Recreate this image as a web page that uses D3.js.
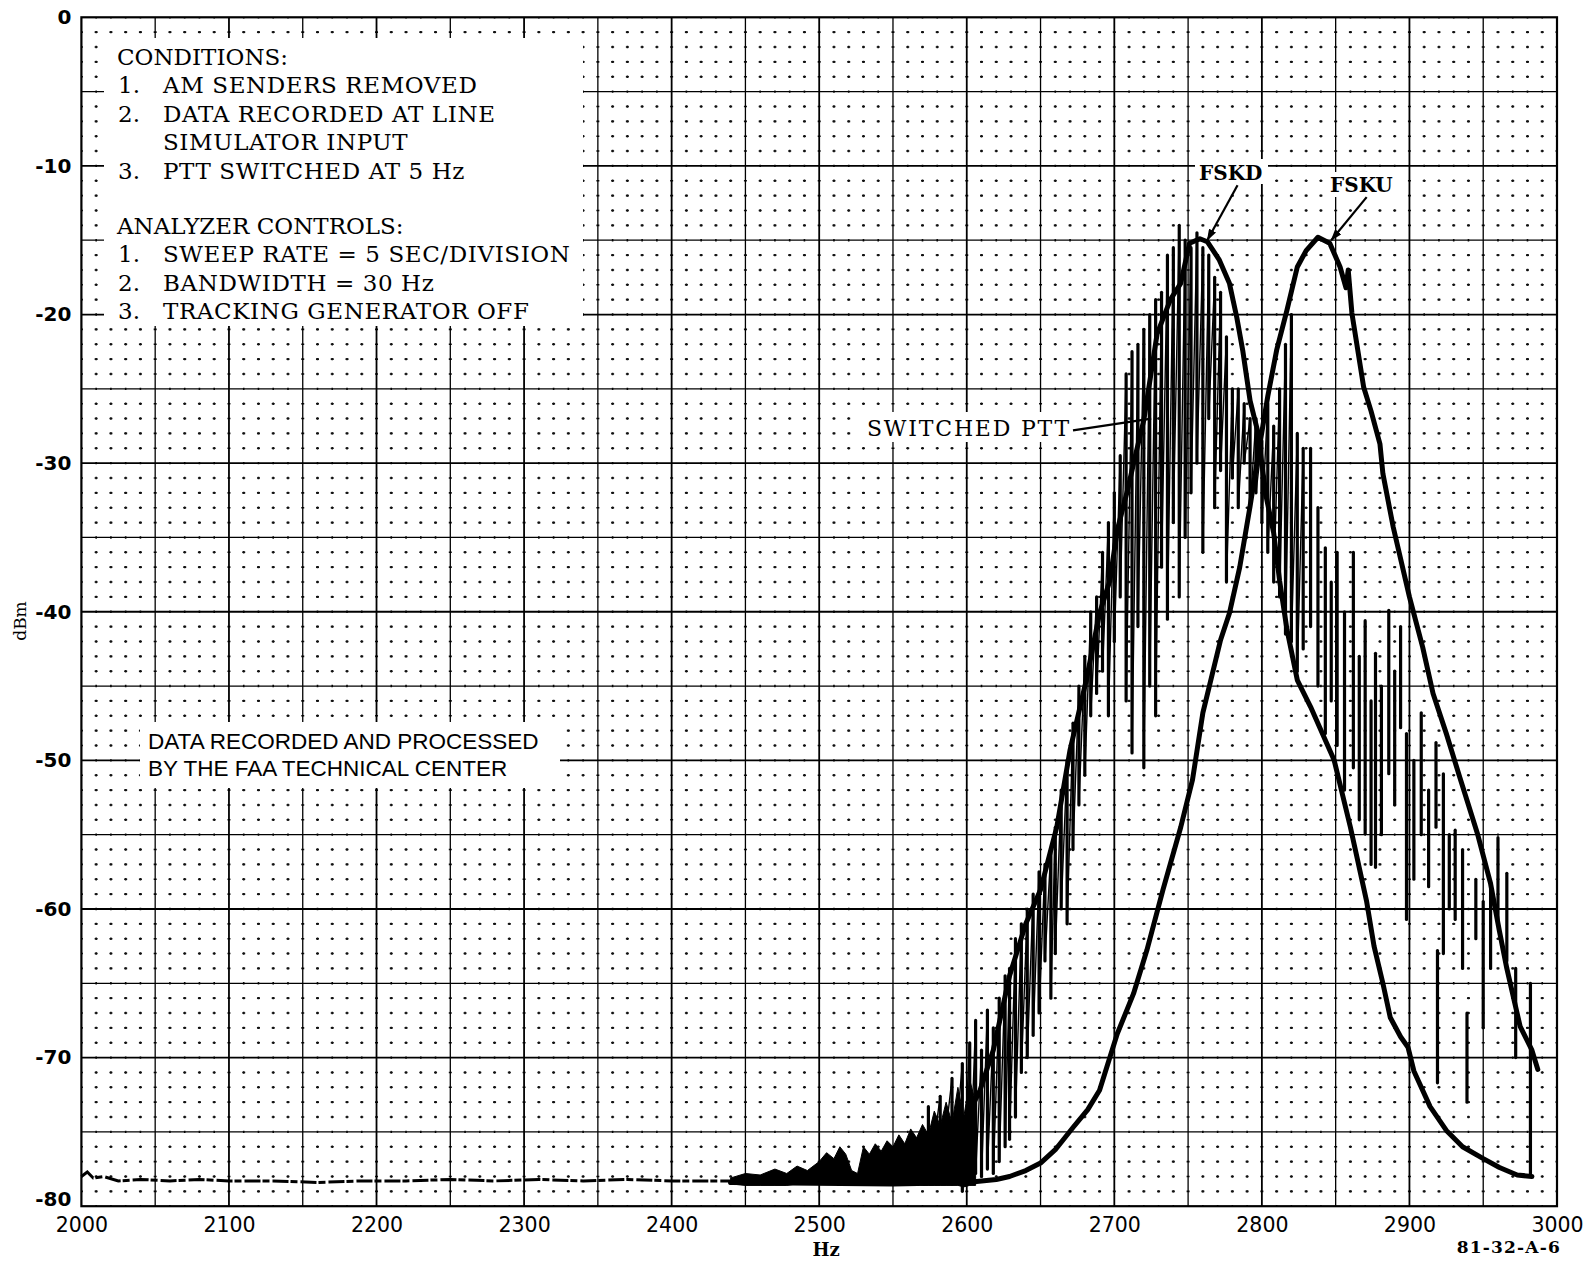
<!DOCTYPE html>
<html lang="en">
<head>
<meta charset="UTF-8">
<title>FSK spectrum</title>
<style>
  body { margin: 0; background: #fff; }
  svg { display: block; }
  .serif { font-family: "DejaVu Serif", serif; fill: #000; }
  .sans { font-family: "Liberation Sans", Arial, sans-serif; fill: #000; }
  .tick text { font-family: "DejaVu Sans", sans-serif; fill: #000; }
</style>
</head>
<body>
<script src="https://d3js.org/d3.v7.min.js"></script>
<script>
var width = 1596, height = 1266;
var margin = {top: 17.3, right: 39, bottom: 59.8, left: 81.4};

// axis ticks
var xTicks = [2000, 2100, 2200, 2300, 2400, 2500, 2600, 2700, 2800, 2900, 3000];
var yTicks = [0, -10, -20, -30, -40, -50, -60, -70, -80];
var yTickLabels = ["0", "-10", "-20", "-30", "-40", "-50", "-60", "-70", "-80"];

// noise floor (left part of the sweep)
var floorHz  = [2000, 2004, 2008, 2015, 2025, 2040, 2060, 2080, 2100, 2130, 2160, 2190, 2220, 2250, 2280, 2310, 2340, 2370, 2400, 2420, 2440, 2460];
var floorDbm = [-78.0, -77.7, -78.1, -78.0, -78.3, -78.2, -78.3, -78.2, -78.3, -78.3, -78.4, -78.3, -78.3, -78.2, -78.3, -78.2, -78.3, -78.2, -78.3, -78.3, -78.3, -78.3];

// noise band of the switched trace just before the carriers
var bandHz     = [2440, 2450, 2460, 2470, 2478, 2485, 2492, 2500, 2505, 2510, 2514, 2518, 2522, 2526, 2530, 2534, 2538, 2542, 2546, 2550, 2554, 2558, 2562, 2566, 2570, 2574, 2578, 2582, 2586, 2590, 2594, 2598, 2602, 2606];
var bandTop    = [-78.1, -77.8, -77.9, -77.5, -77.8, -77.3, -77.6, -77.0, -76.4, -76.8, -76.0, -76.5, -77.6, -77.8, -76.0, -76.5, -75.8, -76.3, -75.6, -76.0, -75.2, -75.8, -74.8, -75.4, -74.5, -75.2, -73.6, -74.6, -73.0, -74.4, -72.0, -74.0, -71.5, -73.0];
var bandBottom = [-78.5, -78.6, -78.6, -78.6, -78.6, -78.5, -78.5, -78.5, -78.4, -78.4, -78.4, -78.4, -78.4, -78.5, -78.5, -78.4, -78.4, -78.4, -78.4, -78.4, -78.5, -78.5, -78.5, -78.5, -78.6, -78.6, -78.6, -78.6, -78.6, -78.6, -78.6, -78.7, -78.6, -78.6];

// FSKD carrier trace
var fskdHz  = [2440, 2500, 2540, 2560, 2575, 2587, 2600, 2609, 2618, 2629, 2640, 2650, 2661, 2670, 2681, 2690, 2697, 2702, 2709, 2714, 2720, 2729, 2738, 2745, 2751, 2758, 2763, 2771, 2778, 2783, 2787, 2792, 2797, 2803, 2808, 2812, 2817, 2824, 2833, 2849, 2860, 2871, 2876, 2882, 2887, 2894, 2899, 2903, 2914, 2925, 2936, 2950, 2961, 2973, 2983];
var fskdDbm = [-78.4, -78.4, -78.2, -77.8, -77.0, -75.4, -74.0, -72.2, -69.5, -64.5, -61.0, -58.7, -54.5, -49.3, -44.6, -40.1, -37.9, -34.5, -31.8, -29.6, -27.1, -21.3, -19.0, -17.9, -15.2, -14.9, -15.1, -16.3, -17.9, -20.2, -22.4, -25.8, -27.8, -32.3, -34.7, -37.9, -41.2, -44.6, -46.4, -50.0, -54.5, -59.5, -62.5, -65.0, -67.3, -68.6, -69.3, -70.9, -73.3, -74.9, -76.0, -76.8, -77.4, -77.9, -78.0];

// FSKU carrier trace
var fskuHz  = [2440, 2550, 2600, 2620, 2629, 2640, 2650, 2660, 2672, 2682, 2690, 2702, 2713, 2722, 2733, 2745, 2753, 2760, 2772, 2778, 2785, 2792, 2799, 2804, 2810, 2817, 2824, 2830, 2838, 2846, 2853, 2857, 2858.5, 2861, 2869, 2874, 2880, 2882, 2889, 2900, 2909, 2916, 2925, 2934, 2946, 2955, 2961, 2966, 2975, 2983, 2987];
var fskuDbm = [-78.4, -78.5, -78.4, -78.2, -78.0, -77.6, -77.1, -76.2, -74.7, -73.5, -72.2, -68.4, -65.7, -62.8, -58.7, -54.5, -51.3, -46.8, -41.9, -40.1, -37.0, -32.9, -28.5, -25.5, -22.4, -19.7, -16.8, -15.7, -14.8, -15.2, -16.8, -18.2, -17.0, -19.9, -24.9, -26.5, -28.7, -30.7, -34.3, -39.0, -42.4, -45.5, -48.2, -51.1, -54.9, -58.3, -61.5, -64.0, -67.9, -69.5, -70.8];

// switched PTT sweep: each vertical excursion (frequency, upper, lower)
var pttHz   = [2574, 2582, 2590, 2597, 2602, 2606, 2610, 2614, 2618, 2622, 2626, 2629, 2633, 2637, 2641, 2645, 2649, 2653, 2657, 2660, 2664, 2668, 2672, 2676, 2680, 2684, 2688, 2692, 2696, 2700, 2704, 2708, 2712, 2716, 2720, 2724, 2728, 2732, 2736, 2740, 2744, 2748, 2752, 2756, 2760, 2764, 2768, 2772, 2776, 2780, 2784, 2788, 2792, 2796, 2800, 2804, 2808, 2812, 2816, 2820, 2824, 2828, 2833, 2838, 2843, 2847, 2851, 2856, 2862, 2866, 2870, 2874, 2877, 2881, 2886, 2890, 2894, 2898, 2903, 2908, 2913, 2918, 2919, 2923, 2927, 2931, 2936, 2939, 2945, 2950, 2955, 2960, 2966, 2972, 2982];
var pttHigh = [-73.3, -72.6, -71.4, -70.4, -69.0, -67.5, -69.5, -66.8, -68.0, -66.0, -64.5, -64.0, -62.0, -61.0, -60.0, -59.0, -57.5, -57.0, -56.0, -54.5, -52.0, -50.0, -47.5, -45.0, -43.0, -40.0, -39.0, -36.0, -34.0, -32.0, -29.5, -24.0, -22.5, -22.0, -21.0, -20.0, -19.0, -18.5, -16.0, -15.5, -14.0, -15.0, -15.5, -14.5, -15.5, -16.0, -17.5, -18.5, -21.5, -25.0, -25.0, -26.0, -27.0, -27.0, -28.5, -26.0, -27.5, -25.0, -22.0, -20.0, -28.0, -29.0, -29.0, -33.0, -35.7, -38.0, -36.0, -40.0, -36.0, -43.0, -40.6, -46.0, -42.8, -45.0, -39.9, -44.0, -41.0, -48.2, -50.0, -46.8, -52.0, -48.8, -62.8, -50.9, -55.0, -54.7, -56.0, -67.0, -58.0, -59.5, -58.5, -55.2, -57.6, -64.0, -65.0];
var pttLow  = [-78.4, -78.4, -78.5, -79.0, -78.5, -77.8, -78.0, -77.5, -77.8, -77.0, -76.0, -75.5, -74.0, -71.0, -70.0, -68.5, -67.0, -63.5, -66.0, -63.0, -60.0, -61.0, -56.0, -53.0, -51.0, -47.0, -45.5, -44.0, -47.0, -42.0, -39.0, -46.0, -49.5, -41.0, -50.5, -45.0, -47.0, -37.0, -40.5, -34.0, -39.0, -35.0, -32.0, -30.0, -36.0, -27.0, -33.0, -30.5, -38.0, -31.0, -33.0, -30.0, -33.0, -32.0, -34.0, -36.0, -38.0, -39.0, -41.5, -42.0, -44.0, -42.5, -41.0, -45.0, -48.2, -46.0, -49.0, -52.0, -50.5, -54.0, -54.9, -57.0, -57.2, -55.0, -50.9, -53.0, -47.8, -60.7, -58.0, -55.0, -58.5, -54.5, -71.7, -63.0, -60.0, -60.7, -64.0, -73.0, -62.0, -68.0, -64.0, -60.8, -63.5, -70.0, -78.0];

// annotation text
var conditionLines = [["", "CONDITIONS:"], ["1.", "AM SENDERS REMOVED"], ["2.", "DATA RECORDED AT LINE"], ["", "SIMULATOR INPUT"], ["3.", "PTT SWITCHED AT 5 Hz"]];
var analyzerLines  = [["", "ANALYZER CONTROLS:"], ["1.", "SWEEP RATE = 5 SEC/DIVISION"], ["2.", "BANDWIDTH = 30 Hz"], ["3.", "TRACKING GENERATOR OFF"]];
var creditLines    = ["DATA RECORDED AND PROCESSED", "BY THE FAA TECHNICAL CENTER"];

var svg = d3.select("body").append("svg")
	.attr("width", width)
	.attr("height", height);

var x = d3.scaleLinear().domain([2000, 3000]).range([margin.left, width - margin.right]);
var y = d3.scaleLinear().domain([0, -80]).range([margin.top, height - margin.bottom]);

var x0 = x.range()[0], x1 = x.range()[1], y0 = y.range()[0], y1 = y.range()[1];
var stepX = x(2010) - x(2000), stepY = y(-1) - y(0);

// ---- graph paper grid: dots on every 10 Hz x 1 dB crossing, lines every 50 Hz / 5 dB
var grid = svg.append("g").attr("class", "grid");

grid.selectAll("line.vdot")
	.data(d3.range(2010, 3000, 10).filter(function(d){ return d % 50 !== 0; }))
	.join("line")
	.attr("x1", function(d){ return x(d); }).attr("x2", function(d){ return x(d); })
	.attr("y1", y0).attr("y2", y1)
	.attr("stroke", "#111").attr("stroke-width", 1.6)
	.attr("stroke-dasharray", "2.4," + (stepY - 2.4))
	.attr("stroke-dashoffset", 1.2);

grid.selectAll("line.hdot")
	.data(d3.range(-1, -80, -1).filter(function(d){ return d % 5 !== 0; }))
	.join("line")
	.attr("x1", x0).attr("x2", x1)
	.attr("y1", function(d){ return y(d); }).attr("y2", function(d){ return y(d); })
	.attr("stroke", "#111").attr("stroke-width", 1.6)
	.attr("stroke-dasharray", "3," + (stepX - 3))
	.attr("stroke-dashoffset", 1.5);

grid.selectAll("line.vmid")
	.data(d3.range(2050, 3000, 50))
	.join("line")
	.attr("x1", function(d){ return x(d); }).attr("x2", function(d){ return x(d); })
	.attr("y1", y0).attr("y2", y1)
	.attr("stroke", "#000")
	.attr("stroke-width", function(d){ return d % 100 === 0 ? 1.8 : 1.3; });

grid.selectAll("line.hmid")
	.data(d3.range(-5, -80, -5))
	.join("line")
	.attr("x1", x0).attr("x2", x1)
	.attr("y1", function(d){ return y(d); }).attr("y2", function(d){ return y(d); })
	.attr("stroke", "#000")
	.attr("stroke-width", function(d){ return d % 10 === 0 ? 1.8 : 1.3; });

// white panels behind the notes
svg.append("rect").attr("x", 104).attr("y", 38).attr("width", 479).attr("height", 288).attr("fill", "#fff");
svg.append("rect").attr("x", 140).attr("y", 722).attr("width", 420).attr("height", 66).attr("fill", "#fff");
svg.append("rect").attr("x", 860).attr("y", 412).attr("width", 212).attr("height", 30).attr("fill", "#fff");
svg.append("rect").attr("x", 1195).attr("y", 159).attr("width", 73).attr("height", 25).attr("fill", "#fff");
svg.append("rect").attr("x", 1326).attr("y", 172).attr("width", 73).attr("height", 25).attr("fill", "#fff");

// frame
svg.append("rect")
	.attr("x", x0).attr("y", y0)
	.attr("width", x1 - x0).attr("height", y1 - y0)
	.attr("fill", "none").attr("stroke", "#000").attr("stroke-width", 2.2);

// ---- traces
var plot = svg.append("g").attr("class", "traces");

var floorLine = d3.line()
	.x(function(d){ return x(d); })
	.y(function(d, i){ return y(floorDbm[i]); });

plot.append("path")
	.attr("d", floorLine(floorHz))
	.attr("fill", "none").attr("stroke", "#000")
	.attr("stroke-width", 3).attr("stroke-dasharray", "16,2,7,3");

var bandArea = d3.area()
	.x(function(d){ return x(d); })
	.y0(function(d, i){ return y(bandBottom[i]); })
	.y1(function(d, i){ return y(bandTop[i]); });

plot.append("path")
	.attr("d", bandArea(bandHz))
	.attr("fill", "#000").attr("stroke", "#000").attr("stroke-width", 1);

// under the FSKD carrier the switched sweep is a dense jagged trace;
// further up the band it shows only as separate strokes
var pttPoints = [];
pttHz.forEach(function(hz, i){
	if (hz > 2830) return;
	pttPoints.push([hz, pttHigh[i]]);
	pttPoints.push([hz, pttLow[i]]);
});
plot.append("path")
	.attr("d", d3.line()
		.x(function(p){ return x(p[0]); })
		.y(function(p){ return y(p[1]); })(pttPoints))
	.attr("fill", "none").attr("stroke", "#000")
	.attr("stroke-width", 1.4).attr("stroke-linejoin", "round");

plot.selectAll("line.ptt")
	.data(pttHz)
	.join("line")
	.attr("class", "ptt")
	.attr("x1", function(d){ return x(d); }).attr("x2", function(d){ return x(d); })
	.attr("y1", function(d, i){ return y(pttHigh[i]); })
	.attr("y2", function(d, i){ return y(pttLow[i]); })
	.attr("stroke", "#000").attr("stroke-width", 3.2)
	.attr("stroke-linecap", "round");

function trace(hz, dbm) {
	return d3.line()
		.x(function(d){ return x(d); })
		.y(function(d, i){ return y(dbm[i]); })(hz);
}

plot.append("path")
	.attr("d", trace(fskdHz, fskdDbm))
	.attr("fill", "none").attr("stroke", "#000")
	.attr("stroke-width", 5).attr("stroke-linejoin", "round").attr("stroke-linecap", "round");

plot.append("path")
	.attr("d", trace(fskuHz, fskuDbm))
	.attr("fill", "none").attr("stroke", "#000")
	.attr("stroke-width", 5).attr("stroke-linejoin", "round").attr("stroke-linecap", "round");

// ---- axes
var xAxis = d3.axisBottom(x).tickValues(xTicks).tickSize(0).tickPadding(11)
	.tickFormat(d3.format("d"));
svg.append("g")
	.attr("class", "x-axis")
	.attr("transform", "translate(0," + y1 + ")")
	.call(xAxis)
	.call(function(g){ g.select(".domain").remove(); })
	.selectAll("text").attr("font-size", 20.5);

var yAxis = d3.axisLeft(y).tickValues(yTicks).tickSize(0).tickPadding(10)
	.tickFormat(function(d, i){ return yTickLabels[i]; });
svg.append("g")
	.attr("class", "y-axis")
	.attr("transform", "translate(" + x0 + ",0)")
	.call(yAxis)
	.call(function(g){ g.select(".domain").remove(); })
	.selectAll("text")
	.attr("font-size", 20).attr("font-weight", "bold")
	.attr("dy", function(d){ return d === -80 ? "-0.05em" : "0.32em"; });

svg.append("text")
	.attr("class", "serif")
	.attr("transform", "translate(26,621) rotate(-90)")
	.attr("text-anchor", "middle")
	.attr("font-size", 17)
	.text("dBm");

svg.append("text")
	.attr("class", "serif")
	.attr("x", 826).attr("y", 1256)
	.attr("text-anchor", "middle")
	.attr("font-size", 18).attr("font-weight", "bold")
	.text("Hz");

svg.append("text")
	.attr("class", "serif")
	.attr("x", 1561).attr("y", 1253)
	.attr("text-anchor", "end")
	.attr("font-size", 17).attr("font-weight", "bold")
	.attr("letter-spacing", 1.2)
	.text("81-32-A-6");

// ---- notes
function noteBlock(lines, top) {
	var g = svg.append("g").attr("class", "serif").attr("font-size", 23);
	lines.forEach(function(l, i){
		var yy = top + i * 28.4;
		if (l[0] === "" && i === 0) {
			g.append("text").attr("x", 117).attr("y", yy).text(l[1]);
		} else {
			if (l[0] !== "") g.append("text").attr("x", 118).attr("y", yy).text(l[0]);
			g.append("text").attr("x", 163).attr("y", yy).attr("letter-spacing", 0.6).text(l[1]);
		}
	});
}
noteBlock(conditionLines, 65);
noteBlock(analyzerLines, 234);

svg.append("g").attr("class", "sans").attr("font-size", 22.5)
	.selectAll("text")
	.data(creditLines)
	.join("text")
	.attr("x", 148)
	.attr("y", function(d, i){ return 749 + i * 26.5; })
	.text(function(d){ return d; });

// carrier labels with arrows
var defs = svg.append("defs");
defs.append("marker")
	.attr("id", "head")
	.attr("viewBox", "0 0 12 8")
	.attr("refX", 11).attr("refY", 4)
	.attr("markerWidth", 12).attr("markerHeight", 8)
	.attr("markerUnits", "userSpaceOnUse")
	.attr("orient", "auto")
	.append("path").attr("d", "M0,0L12,4L0,8z").attr("fill", "#000");

svg.append("text").attr("class", "serif")
	.attr("x", 1199).attr("y", 180)
	.attr("font-size", 20).attr("font-weight", "bold")
	.text("FSKD");
svg.append("line")
	.attr("x1", x(2783.5)).attr("y1", y(-11.3))
	.attr("x2", x(2763)).attr("y2", y(-15))
	.attr("stroke", "#000").attr("stroke-width", 2.2)
	.attr("marker-end", "url(#head)");

svg.append("text").attr("class", "serif")
	.attr("x", 1330).attr("y", 192)
	.attr("font-size", 20).attr("font-weight", "bold")
	.text("FSKU");
svg.append("line")
	.attr("x1", x(2871)).attr("y1", y(-12.1))
	.attr("x2", x(2847)).attr("y2", y(-15))
	.attr("stroke", "#000").attr("stroke-width", 2.2)
	.attr("marker-end", "url(#head)");

svg.append("text").attr("class", "serif")
	.attr("x", 867).attr("y", 436)
	.attr("font-size", 22).attr("letter-spacing", 1.8)
	.text("SWITCHED PTT");
svg.append("line")
	.attr("x1", x(2672)).attr("y1", y(-27.8))
	.attr("x2", x(2725)).attr("y2", y(-27.0))
	.attr("stroke", "#000").attr("stroke-width", 2.2);
</script>
</body>
</html>
